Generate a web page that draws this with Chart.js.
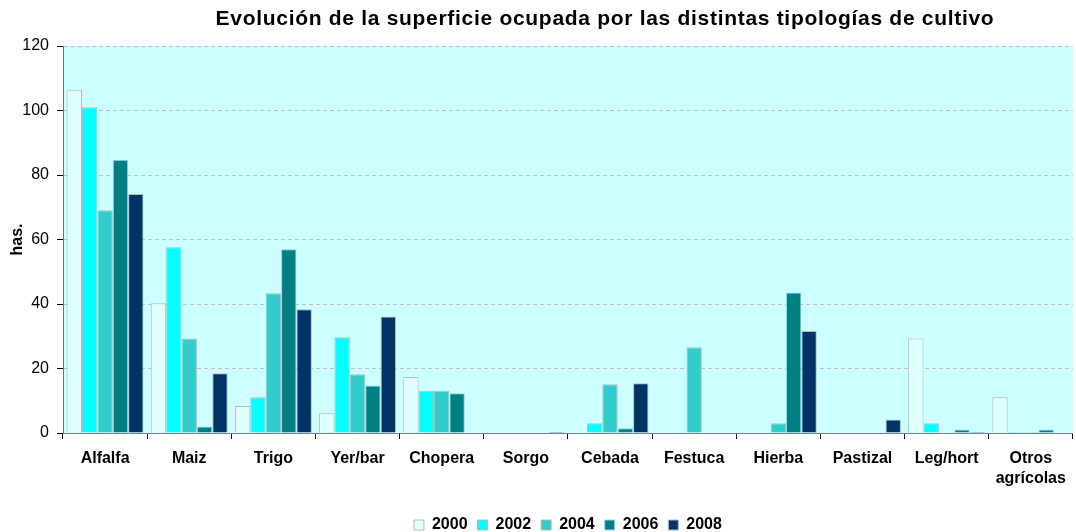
<!DOCTYPE html>
<html>
<head>
<meta charset="utf-8">
<script src="https://cdn.jsdelivr.net/npm/chart.js@4.4.1/dist/chart.umd.min.js"></script>
<style>
  html, body { margin: 0; padding: 0; background: #fff; overflow: hidden; }
  #wrap { position: relative; width: 1076px; height: 532px; overflow: hidden; }
  #title {
    position: absolute; left: 0; top: 6px; width: 1210px; text-align: center;
    font: bold 21px "Liberation Sans", Arial, sans-serif; letter-spacing: 0.7px; color: #000;
    white-space: nowrap;
  }
  canvas { position: absolute; left: 0; top: 0; }
</style>
</head>
<body>
<div id="wrap">
  <canvas id="chart" width="1076" height="543"></canvas>
  <div id="title">Evolución de la superficie ocupada por las distintas tipologías de cultivo</div>
</div>
<script>
// categories and series (hectares)
const cultivos = ['Alfalfa', 'Maiz', 'Trigo', 'Yer/bar', 'Chopera', 'Sorgo', 'Cebada', 'Festuca', 'Hierba', 'Pastizal', 'Leg/hort', ['Otros', 'agrícolas']];
const años = ['2000', '2002', '2004', '2006', '2008'];
const v2000 = [106.4, 40.2, 8.4, 6.1, 17.4, 0, 0, 0, 0, 0, 29.3, 11.1];
const v2002 = [101.0, 57.6, 11.1, 29.7, 13.1, 0, 3.0, 0, 0, 0, 3.0, 0.3];
const v2004 = [69.1, 29.3, 43.3, 18.2, 13.1, 0, 15.1, 26.6, 3.0, 0, 0, 0.3];
const v2006 = [84.7, 2.0, 57.0, 14.7, 12.3, 0, 1.5, 0, 43.6, 0, 1.1, 1.1];
const v2008 = [74.1, 18.5, 38.4, 36.1, 0, 0.4, 15.4, 0, 31.6, 4.2, 0.4, 0];
const yTicks = [0, 20, 40, 60, 80, 100, 120];

const fills = ['#DFFFFF', '#00FFFF', '#33CCCC', '#008080', '#003366'];
const borders = ['#B8B8B8', '#B8B8B8', '#B8B8B8', '#99CCFF', '#B8B8B8'];
const series = [v2000, v2002, v2004, v2006, v2008];

const FONT = '"Liberation Sans", Arial, sans-serif';

const plotBg = {
  id: 'plotBg',
  beforeInit(chart) { chart.ctx.letterSpacing = '0.4px'; },
  beforeDraw(chart) {
    const a = chart.chartArea, ctx = chart.ctx;
    ctx.save();
    ctx.fillStyle = '#CCFFFF';
    ctx.fillRect(a.left, a.top, a.right - a.left, a.bottom - a.top);
    ctx.restore();
  }
};

new Chart(document.getElementById('chart').getContext('2d'), {
  type: 'bar',
  data: {
    labels: cultivos,
    datasets: series.map((d, i) => ({
      label: años[i],
      data: d,
      backgroundColor: fills[i],
      borderColor: borders[i],
      borderWidth: 1,
      categoryPercentage: 0.914,
      barPercentage: 1.0
    }))
  },
  options: {
    responsive: false,
    animation: false,
    layout: { padding: { top: 46, right: 2, left: 0, bottom: 0 } },
    plugins: {
      title: { display: false },
      tooltip: { enabled: false },
      legend: {
        position: 'bottom',
        fullSize: false,
        labels: {
          boxWidth: 10, boxHeight: 10, padding: 10, color: '#000',
          font: { family: FONT, size: 16, weight: 'bold' }
        }
      }
    },
    scales: {
      x: {
        grid: { display: true, drawOnChartArea: false, offset: true, tickLength: 6, color: '#000' },
        border: { color: '#808080', width: 1 },
        ticks: {
          color: '#000', padding: 10, maxRotation: 0, autoSkip: false,
          font: { family: FONT, size: 16, weight: 'bold', lineHeight: 1.25 }
        },
        afterFit(s) { s.height = 74; }
      },
      y: {
        min: 0, max: 120,
        afterBuildTicks(s) { s.ticks = yTicks.map(v => ({ value: v })); },
        grid: { color: '#C0C0C0', tickLength: 6, tickColor: '#000', drawTicks: true },
        border: { color: '#707070', width: 1, dash: [4, 3] },
        ticks: {
          color: '#000', padding: 8,
          font: { family: FONT, size: 16 }
        },
        title: {
          display: true, text: 'has.', color: '#000', padding: { top: 8, bottom: 0 },
          font: { family: FONT, size: 16, weight: 'bold' }
        },
        afterFit(s) { s.width = 63; }
      }
    }
  },
  plugins: [plotBg]
});
</script>
</body>
</html>
